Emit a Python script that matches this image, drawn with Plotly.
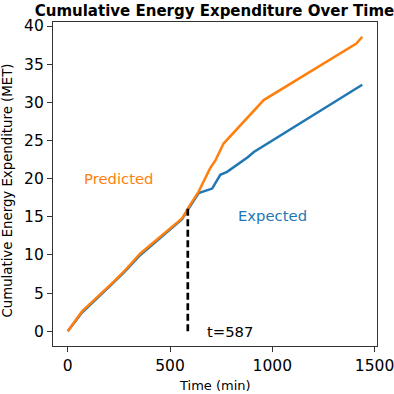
import plotly.graph_objects as go

# Expected (blue) series
exp_t = [0, 70, 225, 274, 355, 559, 587, 640, 706, 746, 779, 880, 910, 1440]
exp_v = [0, 2.45, 6.4, 7.7, 10.0, 14.7, 15.9, 18.1, 18.7, 20.5, 20.9, 22.8, 23.5, 32.3]

# Predicted (orange) series
pred_t = [0, 70, 225, 274, 355, 559, 575, 592, 640, 697, 722, 762, 958, 1411, 1440]
pred_v = [0, 2.6, 6.5, 7.8, 10.2, 14.8, 15.5, 16.3, 18.3, 21.4, 22.4, 24.6, 30.3, 37.7, 38.6]

t_split = 587
split_top = 16.1

x_ticks = [0, 500, 1000, 1500]
y_ticks = [0, 5, 10, 15, 20, 25, 30, 35, 40]

BLUE = "#1f77b4"
ORANGE = "#ff7f0e"
FONT = "DejaVu Sans"

fig = go.Figure()
fig.add_trace(go.Scatter(x=exp_t, y=exp_v, mode="lines",
                         line=dict(color=BLUE, width=2.5), name="Expected"))
fig.add_trace(go.Scatter(x=pred_t, y=pred_v, mode="lines",
                         line=dict(color=ORANGE, width=2.5), name="Predicted"))
fig.add_trace(go.Scatter(x=[t_split, t_split], y=[0, split_top], mode="lines",
                         line=dict(color="black", width=2.7, dash="7px,3.5px"),
                         name="split"))

axis_common = dict(showgrid=False, zeroline=False, showline=True, mirror=True,
                   linecolor="#333333", linewidth=1.2, ticks="outside",
                   ticklen=5, tickwidth=1, tickcolor="#333333", automargin=False,
                   ticklabeloverflow="allow",
                   tickfont=dict(family=FONT, size=15.5, color="black"))

fig.update_layout(
    width=394, height=394,
    margin=dict(l=53, r=17, t=22, b=48),
    plot_bgcolor="white", paper_bgcolor="white",
    showlegend=False,
    font=dict(family=FONT, color="black"),
    title=dict(text="<b>Cumulative Energy Expenditure Over Time</b>",
               x=214.5 / 394, xanchor="center", y=1 - 11 / 394, yref="container",
               yanchor="middle", font=dict(family=FONT, size=15, color="black")),
    xaxis=dict(range=[-72, 1512], tickvals=x_ticks, **axis_common),
    yaxis=dict(range=[-1.93, 40.53], tickvals=y_ticks, **axis_common),
    annotations=[
        dict(text="Time (min)", xref="paper", yref="paper", x=0.5, y=-(385 - 346) / 324,
             xanchor="center", yanchor="middle", showarrow=False,
             font=dict(family=FONT, size=13, color="black")),
        dict(text="Cumulative Energy Expenditure (MET)", xref="paper", yref="paper",
             x=-(53 - 7) / 324, y=0.48, textangle=-90, xanchor="center", yanchor="middle",
             showarrow=False, font=dict(family=FONT, size=13.3, color="black")),
        dict(text="Predicted", x=250, y=20, xref="x", yref="y", showarrow=False,
             xanchor="center", yanchor="middle",
             font=dict(family=FONT, size=14.8, color=ORANGE)),
        dict(text="Expected", x=1000, y=15.2, xref="x", yref="y", showarrow=False,
             xanchor="center", yanchor="middle",
             font=dict(family=FONT, size=14.8, color=BLUE)),
        dict(text="t=587", x=672, y=0, xref="x", yref="y", showarrow=False,
             xanchor="left", yanchor="middle",
             font=dict(family=FONT, size=14.8, color="black")),
    ],
)

fig.write_html("out.html", config={"displayModeBar": False},
               post_script="document.body.style.margin='0';document.body.style.overflow='hidden';")
